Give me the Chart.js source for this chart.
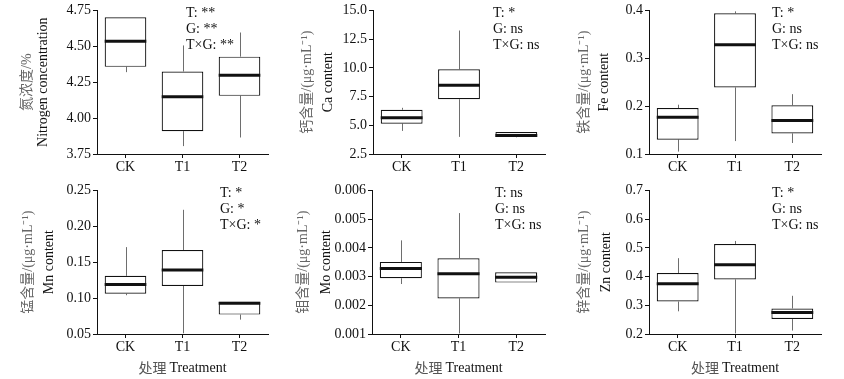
<!DOCTYPE html>
<html>
<head>
<meta charset="utf-8">
<script src="https://cdn.jsdelivr.net/npm/chart.js@4.4.1/dist/chart.umd.min.js"></script>
<style>
  body { margin: 0; background: #fff; width: 844px; height: 379px; position: relative; overflow: hidden; }
  .cell { position: absolute; }
</style>
</head>
<body>
<div class="cell" style="left:0;top:0;width:280px;height:180px"><canvas id="nChart"></canvas></div>
<div class="cell" style="left:280px;top:0;width:280px;height:180px"><canvas id="caChart"></canvas></div>
<div class="cell" style="left:560px;top:0;width:284px;height:180px"><canvas id="feChart"></canvas></div>
<div class="cell" style="left:0;top:180px;width:280px;height:199px"><canvas id="mnChart"></canvas></div>
<div class="cell" style="left:280px;top:180px;width:280px;height:199px"><canvas id="moChart"></canvas></div>
<div class="cell" style="left:560px;top:180px;width:284px;height:199px"><canvas id="znChart"></canvas></div>
<script>
// treatments on the x axis
const categories = ['CK', 'T1', 'T2'];

// box stats per treatment: [min, q1, median, q3, max]
const nitrogenStats = [[4.32, 4.357, 4.536, 4.702, 4.702], [3.805, 3.909, 4.148, 4.325, 4.506], [3.865, 4.155, 4.299, 4.428, 4.596]];
const calciumStats = [[4.51, 5.14, 5.66, 6.35, 6.52], [3.99, 7.27, 8.48, 9.88, 13.25], [3.95, 3.99, 4.11, 4.42, 4.42]];
const ironStats = [[0.105, 0.130, 0.177, 0.196, 0.203], [0.127, 0.239, 0.328, 0.394, 0.398], [0.123, 0.143, 0.170, 0.202, 0.225]];
const manganeseStats = [[0.104, 0.106, 0.119, 0.131, 0.171], [0.051, 0.117, 0.139, 0.167, 0.223], [0.070, 0.077, 0.093, 0.095, 0.095]];
const molybdenumStats = [[0.00274, 0.00294, 0.00328, 0.00351, 0.00426], [0.00102, 0.00224, 0.00310, 0.00364, 0.00521], [0.00279, 0.00279, 0.00298, 0.00315, 0.00315]];
const zincStats = [[0.279, 0.313, 0.375, 0.412, 0.464], [0.202, 0.390, 0.441, 0.513, 0.524], [0.212, 0.252, 0.275, 0.289, 0.333]];

// y tick labels
const nitrogenTicks = [3.75, 4.00, 4.25, 4.50, 4.75];
const calciumTicks = [2.5, 5.0, 7.5, 10.0, 12.5, 15.0];
const ironTicks = [0.1, 0.2, 0.3, 0.4];
const manganeseTicks = [0.05, 0.10, 0.15, 0.20, 0.25];
const molybdenumTicks = [0.001, 0.002, 0.003, 0.004, 0.005, 0.006];
const zincTicks = [0.2, 0.3, 0.4, 0.5, 0.6, 0.7];

// significance notes
const nitrogenNotes = ['T: **', 'G: **', 'T×G: **'];
const calciumNotes = ['T: *', 'G: ns', 'T×G: ns'];
const ironNotes = ['T: *', 'G: ns', 'T×G: ns'];
const manganeseNotes = ['T: *', 'G: *', 'T×G: *'];
const molybdenumNotes = ['T: ns', 'G: ns', 'T×G: ns'];
const zincNotes = ['T: *', 'G: ns', 'T×G: ns'];

const SERIF = '"Liberation Serif", "DejaVu Serif", serif';
const CJK = '"Noto Sans CJK SC", sans-serif';
const MIXED = '"Liberation Serif", "Noto Sans CJK SC", serif';

// whiskers, medians, notes and axis titles
const boxExtras = {
    id: 'boxExtras',
    beforeDatasetsDraw(chart, args, opts) {
        const { ctx } = chart;
        const x = chart.scales.x, y = chart.scales.y;
        ctx.save();
        ctx.strokeStyle = '#6e6e6e';
        ctx.lineWidth = 1;
        opts.stats.forEach((s, i) => {
            const px = Math.round(x.getPixelForValue(i)) + 0.5;
            ctx.beginPath();
            ctx.moveTo(px, y.getPixelForValue(s[0]));
            ctx.lineTo(px, y.getPixelForValue(s[1]));
            ctx.moveTo(px, y.getPixelForValue(s[3]));
            ctx.lineTo(px, y.getPixelForValue(s[4]));
            ctx.stroke();
        });
        ctx.restore();
    },
    afterDatasetsDraw(chart, args, opts) {
        const { ctx } = chart;
        const y = chart.scales.y;
        ctx.save();
        ctx.strokeStyle = '#111';
        ctx.lineWidth = 3;
        chart.getDatasetMeta(0).data.forEach((bar, i) => {
            const half = bar.width / 2;
            const py = y.getPixelForValue(opts.stats[i][2]);
            ctx.beginPath();
            ctx.moveTo(bar.x - half, py);
            ctx.lineTo(bar.x + half, py);
            ctx.stroke();
        });
        ctx.restore();
    },
    afterDraw(chart, args, opts) {
        const { ctx, chartArea } = chart;
        ctx.save();
        // notes
        ctx.font = '14px ' + SERIF;
        ctx.fillStyle = '#111';
        ctx.textAlign = 'left';
        ctx.textBaseline = 'middle';
        opts.notes.forEach((t, k) => ctx.fillText(t, opts.noteX, 13 + k * 16));

        // y titles, rotated
        const cy = (chartArea.top + chartArea.bottom) / 2;
        ctx.textAlign = 'center';
        ctx.save();
        ctx.translate(opts.cnX, cy);
        ctx.rotate(-Math.PI / 2);
        ctx.font = '14px ' + MIXED;
        ctx.fillStyle = '#666';
        ctx.fillText(opts.cnTitle, 0, 0);
        ctx.restore();
        ctx.save();
        ctx.translate(opts.enX, cy);
        ctx.rotate(-Math.PI / 2);
        ctx.font = '14px ' + SERIF;
        ctx.fillStyle = '#111';
        ctx.fillText(opts.enTitle, 0, 0);
        ctx.restore();

        // x title (bottom row only)
        if (opts.xTitle) {
            const cx = (chartArea.left + chartArea.right) / 2;
            ctx.font = '14px ' + CJK;
            const w1 = ctx.measureText('处理 ').width;
            ctx.font = '14px ' + SERIF;
            const w2 = ctx.measureText('Treatment').width;
            const left = cx - (w1 + w2) / 2;
            ctx.textAlign = 'left';
            ctx.font = '14px ' + CJK;
            ctx.fillStyle = '#555';
            ctx.fillText('处理 ', left, 188);
            ctx.font = '14px ' + SERIF;
            ctx.fillStyle = '#111';
            ctx.fillText('Treatment', left + w1, 188);
        }
        ctx.restore();
    }
};

function makeBox(id, stats, ticks, decimals, notes, p) {
    const ctx = document.getElementById(id).getContext('2d');
    new Chart(ctx, {
        type: 'bar',
        data: {
            labels: categories,
            datasets: [{
                data: stats.map(s => [s[1], s[3]]),
                backgroundColor: '#fff',
                borderColor: '#111',
                borderWidth: 1.2,
                borderSkipped: false,
                categoryPercentage: 1,
                barPercentage: 0.73
            }]
        },
        plugins: [boxExtras],
        options: {
            responsive: true,
            maintainAspectRatio: false,
            animation: false,
            layout: { padding: { left: 0, top: 9, right: p.right, bottom: 0 } },
            plugins: {
                legend: { display: false },
                tooltip: { enabled: false },
                boxExtras: {
                    stats: stats,
                    notes: notes,
                    noteX: p.noteX,
                    cnTitle: p.cn,
                    enTitle: p.en,
                    cnX: p.cnX,
                    enX: p.enX,
                    xTitle: p.xTitle
                }
            },
            scales: {
                x: {
                    afterFit: (s) => { s.height = p.xHeight; },
                    border: { display: true, color: '#111', width: 1 },
                    grid: { display: true, drawOnChartArea: false, drawTicks: true, tickLength: 4, offset: false, color: '#111' },
                    ticks: { color: '#111', font: { family: SERIF, size: 14 }, padding: 1 }
                },
                y: {
                    min: ticks[0],
                    max: ticks[ticks.length - 1],
                    afterFit: (s) => { s.width = p.yWidth; },
                    afterBuildTicks: (s) => { s.ticks = ticks.map(v => ({ value: v })); },
                    border: { display: true, color: '#111', width: 1 },
                    grid: { display: true, drawOnChartArea: false, drawTicks: true, tickLength: 4, color: '#111' },
                    ticks: {
                        color: '#111',
                        font: { family: SERIF, size: 14 },
                        padding: 2,
                        callback: (v) => Number(v).toFixed(decimals)
                    }
                }
            }
        }
    });
}

makeBox('nChart', nitrogenStats, nitrogenTicks, 2, nitrogenNotes,
    { right: 12, yWidth: 97, xHeight: 26, noteX: 186, cn: '氮浓度/%', en: 'Nitrogen concentration', cnX: 27, enX: 43 });
makeBox('caChart', calciumStats, calciumTicks, 1, calciumNotes,
    { right: 15, yWidth: 93, xHeight: 26, noteX: 213, cn: '钙含量/(μg·mL⁻¹)', en: 'Ca content', cnX: 27, enX: 48 });
makeBox('feChart', ironStats, ironTicks, 1, ironNotes,
    { right: 23, yWidth: 89, xHeight: 26, noteX: 212, cn: '铁含量/(μg·mL⁻¹)', en: 'Fe content', cnX: 24, enX: 44 });
makeBox('mnChart', manganeseStats, manganeseTicks, 2, manganeseNotes,
    { right: 12, yWidth: 97, xHeight: 45, noteX: 220, cn: '锰含量/(μg·mL⁻¹)', en: 'Mn content', cnX: 28, enX: 49, xTitle: true });
makeBox('moChart', molybdenumStats, molybdenumTicks, 3, molybdenumNotes,
    { right: 15, yWidth: 92, xHeight: 45, noteX: 215, cn: '钼含量/(μg·mL⁻¹)', en: 'Mo content', cnX: 23, enX: 46, xTitle: true });
makeBox('znChart', zincStats, zincTicks, 1, zincNotes,
    { right: 23, yWidth: 89, xHeight: 45, noteX: 212, cn: '锌含量/(μg·mL⁻¹)', en: 'Zn content', cnX: 24, enX: 46, xTitle: true });
</script>
</body>
</html>
